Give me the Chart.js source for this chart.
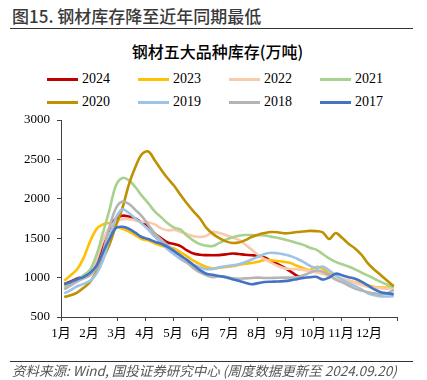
<!DOCTYPE html>
<html><head><meta charset="utf-8">
<script src="https://cdn.jsdelivr.net/npm/chart.js@4.4.1/dist/chart.umd.min.js"></script>
<style>
html,body{margin:0;padding:0;background:#fff;width:427px;height:380px;overflow:hidden;}
body{position:relative;font-family:'Noto Sans CJK SC',sans-serif;}
#head{position:absolute;left:12px;top:5px;font-size:17px;color:#3a3a3a;font-weight:500;white-space:nowrap;line-height:22px;}
#hr1{position:absolute;left:10px;top:28px;width:403px;height:0;border-top:1.5px solid #333;}
#ctitle{position:absolute;left:0;width:435px;top:40px;text-align:center;font-size:16px;font-weight:500;color:#000;line-height:22px;white-space:nowrap;}
.li{position:absolute;height:16px;width:90px;font-family:'Liberation Serif',serif;font-size:14px;color:#000;line-height:16px;}
.li .sw{position:absolute;left:0;top:7px;width:31px;height:3px;}
.li .tx{position:absolute;left:35px;top:0;}
#wrap{position:absolute;left:0;top:0;width:427px;height:380px;}
#hr2{position:absolute;left:10px;top:361px;width:403px;height:0;border-top:1.5px solid #333;}
#src{position:absolute;left:12px;top:362px;font-size:13.5px;font-style:italic;color:#555;white-space:nowrap;line-height:17px;}
</style></head>
<body>
<div id="head">图15. 钢材库存降至近年同期最低</div>
<div id="hr1"></div>
<div id="ctitle">钢材五大品种库存(万吨)</div>
<div id="legend"></div>
<div id="wrap"><canvas id="c" width="427" height="380"></canvas></div>
<div id="hr2"></div>
<div id="src">资料来源: Wind, 国投证券研究中心 (周度数据更新至 2024.09.20)</div>
<script>
const weeks = [1,2,3,4,5,6,7,8,9,10,11,12,13,14,15,16,17,18,19,20,21,22,23,24,25,26,27,28,29,30,31,32,33,34,35,36,37,38,39,40,41,42,43,44,45,46,47,48,49,50,51,52];
const monthLabels = ['1月','2月','3月','4月','5月','6月','7月','8月','9月','10月','11月','12月',''];
const yTicks = [500,1000,1500,2000,2500,3000];

const y2024 = [920,950,990,1010,1050,1210,1390,1620,1750,1785,1775,1750,1700,1655,1560,1500,1445,1425,1400,1345,1305,1290,1285,1283,1285,1295,1305,1300,1290,1283,1278,1255,1215,1175,1130,1080,1025,1005];
const y2023 = [960,1030,1105,1250,1460,1615,1675,1690,1650,1620,1585,1540,1490,1470,1435,1405,1385,1370,1320,1270,1215,1170,1135,1115,1125,1135,1145,1160,1175,1185,1200,1225,1220,1210,1200,1185,1150,1120,1095,1135,1115,1050,1005,980,960,940,920,900,880,875,873,880];
const y2022 = [870,910,960,1000,1050,1230,1470,1640,1715,1740,1742,1725,1708,1703,1675,1625,1600,1605,1580,1555,1525,1515,1530,1580,1565,1540,1510,1480,1420,1355,1290,1235,1190,1150,1120,1110,1105,1098,1085,1065,1045,1020,1005,985,965,935,905,885,875,865,860,870];
const y2021 = [890,930,975,1030,1100,1290,1570,1860,2170,2265,2235,2150,2040,1945,1840,1765,1690,1635,1610,1530,1470,1425,1405,1400,1440,1480,1510,1530,1540,1540,1538,1535,1520,1505,1485,1465,1440,1415,1380,1355,1300,1245,1200,1170,1140,1105,1065,1025,985,945,910,880];
const y2020 = [755,775,810,870,945,1080,1240,1420,1660,1880,2180,2400,2565,2600,2490,2370,2260,2165,2050,1940,1840,1750,1630,1555,1500,1460,1440,1445,1475,1515,1545,1565,1578,1575,1562,1565,1578,1585,1593,1590,1575,1490,1565,1505,1430,1370,1290,1180,1100,1030,960,890];
const y2019 = [800,840,890,920,960,1050,1220,1500,1760,1865,1820,1750,1685,1610,1520,1440,1360,1295,1235,1190,1160,1130,1105,1110,1130,1145,1155,1170,1195,1230,1265,1300,1315,1308,1295,1275,1240,1200,1150,1120,1140,1090,1030,975,930,895,850,800,775,762,760,765];
const y2018 = [850,900,950,990,1030,1130,1330,1640,1880,1965,1935,1860,1780,1670,1560,1480,1410,1345,1270,1190,1120,1065,1030,1005,1015,1010,990,985,990,995,1000,995,995,998,1000,1000,1005,1030,1060,1090,1075,1030,975,940,900,860,835,815,800,790,800,845];
const y2017 = [915,945,980,1010,1060,1150,1320,1490,1630,1645,1620,1570,1515,1490,1455,1430,1390,1335,1280,1225,1160,1095,1050,1035,1020,1005,980,960,935,915,930,945,948,950,955,965,980,995,1005,1010,975,1000,1050,1030,1005,985,950,900,850,815,800,790];

const seriesNames = ['2024','2023','2022','2021','2020','2019','2018','2017'];
const seriesValues = [y2024,y2023,y2022,y2021,y2020,y2019,y2018,y2017];
const seriesColors = ['#C00000','#FFC000','#F8CBAD','#A9D18E','#BF9000','#9DC3E6','#B4B4B4','#4472C4'];

// HTML legend (2 rows x 4 columns)
const leg = document.getElementById('legend');
seriesNames.forEach((n,i)=>{
  const d = document.createElement('div');
  d.className='li';
  d.style.left = (47 + (i%4)*91) + 'px';
  d.style.top = (71 + Math.floor(i/4)*23) + 'px';
  d.innerHTML = '<span class="sw" style="background:'+seriesColors[i]+'"></span><span class="tx">'+n+'</span>';
  leg.appendChild(d);
});

const datasets = seriesNames.map((n,i)=>({
  label:n,
  data: seriesValues[i].map((v,j)=>({x:weeks[j],y:v})),
  borderColor: seriesColors[i],
  backgroundColor: seriesColors[i],
  borderWidth: 2.6,
  pointRadius: 0,
  tension: 0.35,
  fill:false
})).reverse();

const axisColor = '#404040';
const tickFont = {family:"'Liberation Serif','Noto Sans CJK SC',serif", size:13};

new Chart(document.getElementById('c'), {
  type:'line',
  data:{datasets},
  options:{
    responsive:false,
    animation:false,
    events:[],
    layout:{padding:{top:120,right:30,left:0,bottom:0}},
    plugins:{legend:{display:false},title:{display:false},tooltip:{enabled:false}},
    scales:{
      x:{
        type:'linear', min:0.5, max:52.5,
        afterFit:(s)=>{ s.height = 63; },
        afterBuildTicks:(s)=>{ s.ticks = monthLabels.map((_,i)=>({value:0.5 + i*52/12})); },
        ticks:{autoSkip:false, maxRotation:0, color:'#000', font:tickFont, padding:5,
          callback:(v,i)=>monthLabels[i]},
        grid:{drawOnChartArea:false, drawTicks:true, tickLength:4, color:axisColor, lineWidth:1},
        border:{display:true, color:axisColor, width:1}
      },
      y:{
        min:500, max:3000,
        afterFit:(s)=>{ s.width = 61; },
        afterBuildTicks:(s)=>{ s.ticks = yTicks.map(v=>({value:v})); },
        ticks:{color:'#000', font:tickFont, padding:7, callback:(v)=>String(v)},
        grid:{drawOnChartArea:false, drawTicks:true, tickLength:4, color:axisColor, lineWidth:1},
        border:{display:true, color:axisColor, width:1}
      }
    }
  }
});
</script>
</body></html>
